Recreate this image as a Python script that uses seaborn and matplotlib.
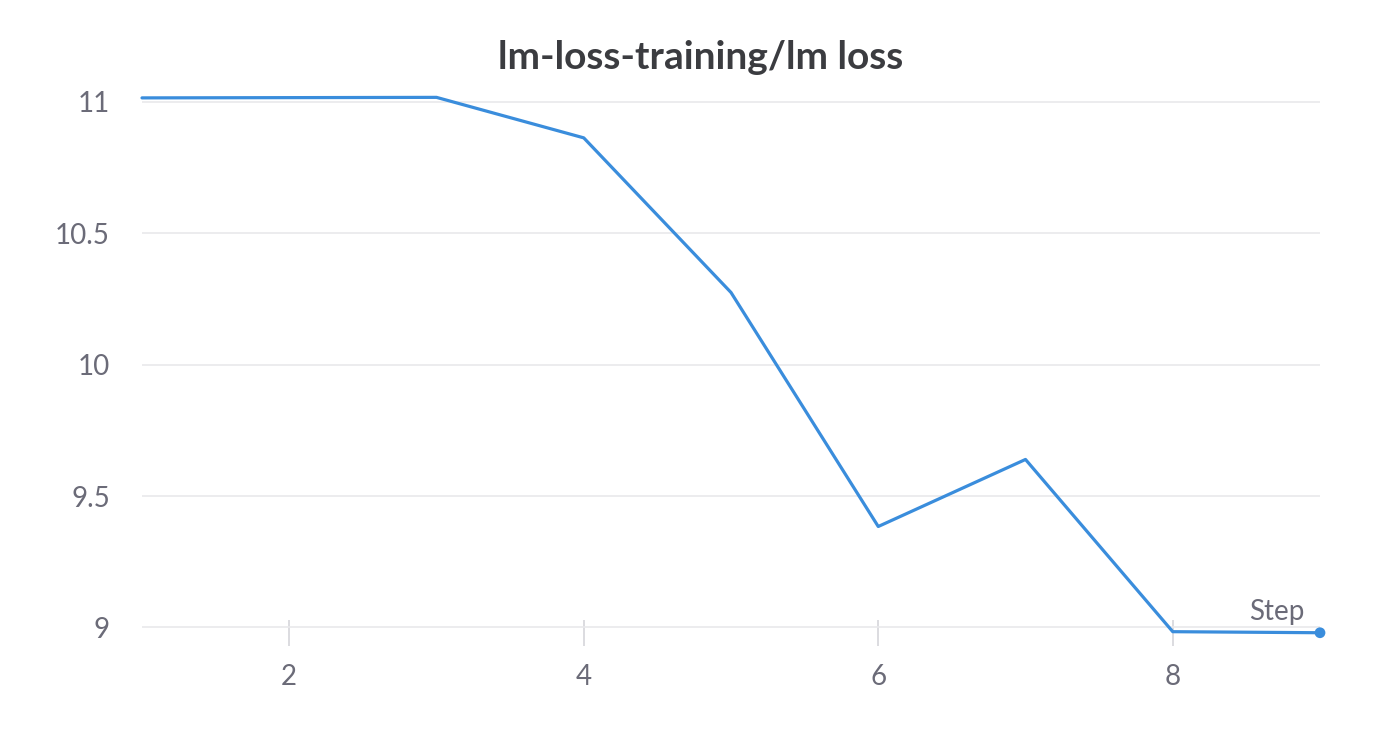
import matplotlib
matplotlib.use("Agg")
import matplotlib.pyplot as plt
import seaborn as sns
import pandas as pd

steps = [1, 2, 3, 4, 5, 6, 7, 8, 9]
lm_loss = [11.014, 11.015, 11.016, 10.862, 10.274, 9.384, 9.639, 8.984, 8.980]
x_ticks = [2, 4, 6, 8]
y_ticks = [9, 9.5, 10, 10.5, 11]
y_tick_labels = ["9", "9.5", "10", "10.5", "11"]
title = "lm-loss-training/lm loss"
x_label = "Step"

sns.set_theme(style="white")
plt.rcParams["font.family"] = ["Lato", "DejaVu Sans"]

df = pd.DataFrame({"step": steps, "loss": lm_loss})

fig = plt.figure(figsize=(14, 7.35), dpi=100)
ax = fig.add_axes([142 / 1400, 1 - 633 / 735, 1178 / 1400, 543 / 735])

line_color = "#3a8ddc"
sns.lineplot(data=df, x="step", y="loss", ax=ax, color=line_color, linewidth=2.3, clip_on=False)
ax.scatter([steps[-1]], [lm_loss[-1]], s=60, color=line_color, zorder=5, clip_on=False, edgecolor="none")

ax.set_xlim(1, 9)
ax.set_ylim(8.979, 11.044)
ax.set_xticks(x_ticks)
ax.set_xticklabels([str(t) for t in x_ticks])
ax.set_yticks(y_ticks)
ax.set_yticklabels(y_tick_labels)

ax.yaxis.grid(True, color="#e9e9eb", linewidth=1.2)
ax.xaxis.grid(False)
for s in ax.spines.values():
    s.set_visible(False)

ax.tick_params(axis="x", bottom=True, direction="inout", length=19, width=1.3, color="#d9d9dd",
               labelsize=20, labelcolor="#6b6b78", pad=13)
ax.tick_params(axis="y", left=False, length=0, labelsize=20, labelcolor="#6b6b78", pad=23)

ax.set_xlabel("")
ax.set_ylabel("")
ax.text(0.987, 0.024, x_label, transform=ax.transAxes, ha="right", va="baseline",
        fontsize=20, color="#6b6b78")

fig.suptitle(title, x=701 / 1400, y=1 - 40 / 735, fontsize=28,
             fontweight="bold", color="#3b3c40")

fig.savefig("out.png", dpi=100, facecolor="white")
